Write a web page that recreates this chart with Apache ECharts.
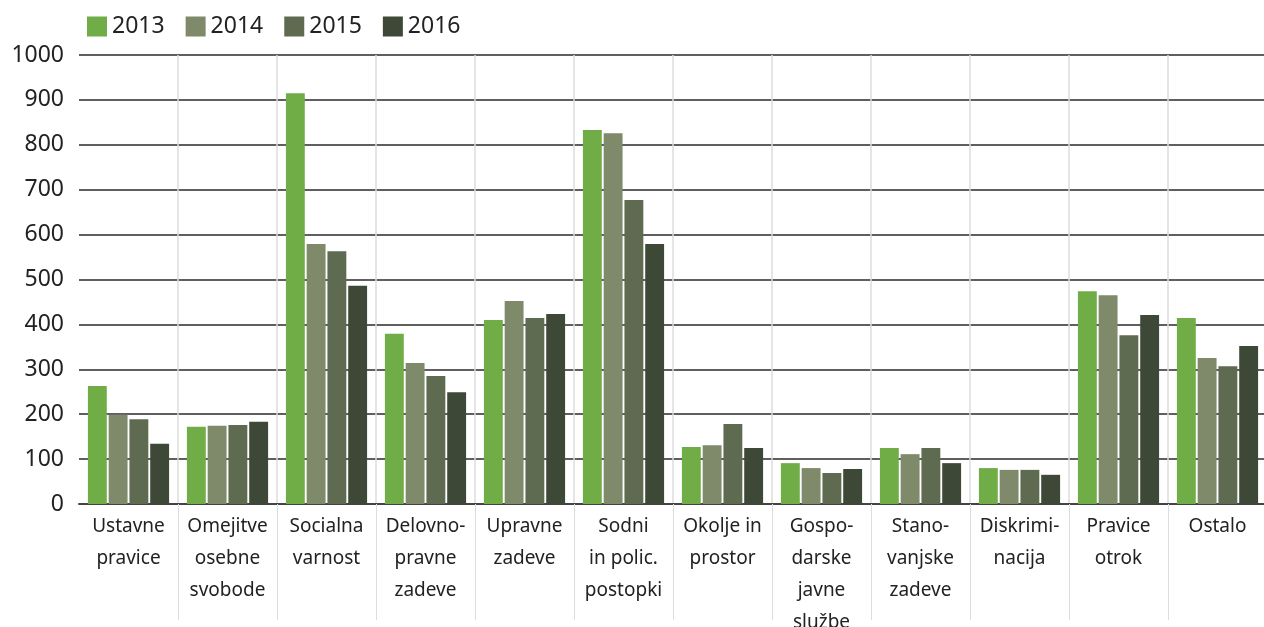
<!DOCTYPE html>
<html>
<head>
<meta charset="utf-8">
<script src="https://cdn.jsdelivr.net/npm/echarts@6/dist/echarts.min.js"></script>
<style>
  html, body { margin: 0; padding: 0; background: #fff; }
  #chart { width: 1264px; height: 627px; }
</style>
</head>
<body>
<div id="chart"></div>
<script>
// categories (line breaks as in the original)
const categories = [
  'Ustavne\npravice', 'Omejitve\nosebne\nsvobode', 'Socialna\nvarnost', 'Delovno-\npravne\nzadeve',
  'Upravne\nzadeve', 'Sodni\nin polic.\npostopki', 'Okolje in\nprostor', 'Gospo-\ndarske\njavne\nslužbe',
  'Stano-\nvanjske\nzadeve', 'Diskrimi-\nnacija', 'Pravice\notrok', 'Ostalo'
];
const years = ['2013', '2014', '2015', '2016'];

const values2013 = [263, 172, 915, 379, 410, 833, 127, 91, 125, 80, 474, 414];
const values2014 = [199, 174, 579, 314, 452, 826, 131, 80, 111, 76, 465, 325];
const values2015 = [189, 176, 563, 285, 414, 677, 178, 69, 125, 76, 376, 307];
const values2016 = [134, 183, 486, 249, 423, 579, 125, 78, 91, 65, 421, 352];

const colors = ['#70ad47', '#7f8a6b', '#5e6b51', '#3d4936'];
const allValues = [values2013, values2014, values2015, values2016];

const chart = echarts.init(document.getElementById('chart'));

const font = 'Noto Sans';

const option = {
  animation: false,
  color: colors,
  textStyle: { fontFamily: font },
  legend: {
    left: 82,
    top: 10,
    itemWidth: 20,
    itemHeight: 20,
    itemGap: 21,
    icon: 'rect',
    textStyle: { fontSize: 23, color: '#222', fontFamily: font },
    data: years
  },
  grid: {
    left: 79,
    right: -3,
    top: 55,
    bottom: 123,
    outerBoundsMode: 'none'
  },
  xAxis: {
    type: 'category',
    data: categories,
    axisLine: { lineStyle: { color: '#444', width: 2 } },
    axisTick: {
      show: true,
      length: 116,
      interval: (i) => i > 0,
      lineStyle: { color: '#ddd', width: 1 }
    },
    splitLine: {
      show: true,
      interval: (i) => i > 0,
      lineStyle: { color: '#ddd', width: 1.5 }
    },
    axisLabel: {
      interval: 0,
      margin: 7,
      fontSize: 19,
      lineHeight: 32,
      color: '#222',
      fontFamily: font,
      verticalAlign: 'top'
    }
  },
  yAxis: {
    type: 'value',
    min: 0,
    max: 1000,
    interval: 100,
    axisLine: { show: false },
    axisTick: { show: false },
    axisLabel: {
      fontSize: 23,
      color: '#222',
      margin: 15,
      fontFamily: font,
      formatter: (v) => String(v)
    },
    splitLine: { lineStyle: { color: '#2a2a2a', width: 1.5 } }
  },
  series: years.map((y, i) => ({
    name: y,
    type: 'bar',
    data: allValues[i],
    barGap: '10%',
    barCategoryGap: '18%',
    itemStyle: { color: colors[i] }
  }))
};

chart.setOption(option);
</script>
</body>
</html>
